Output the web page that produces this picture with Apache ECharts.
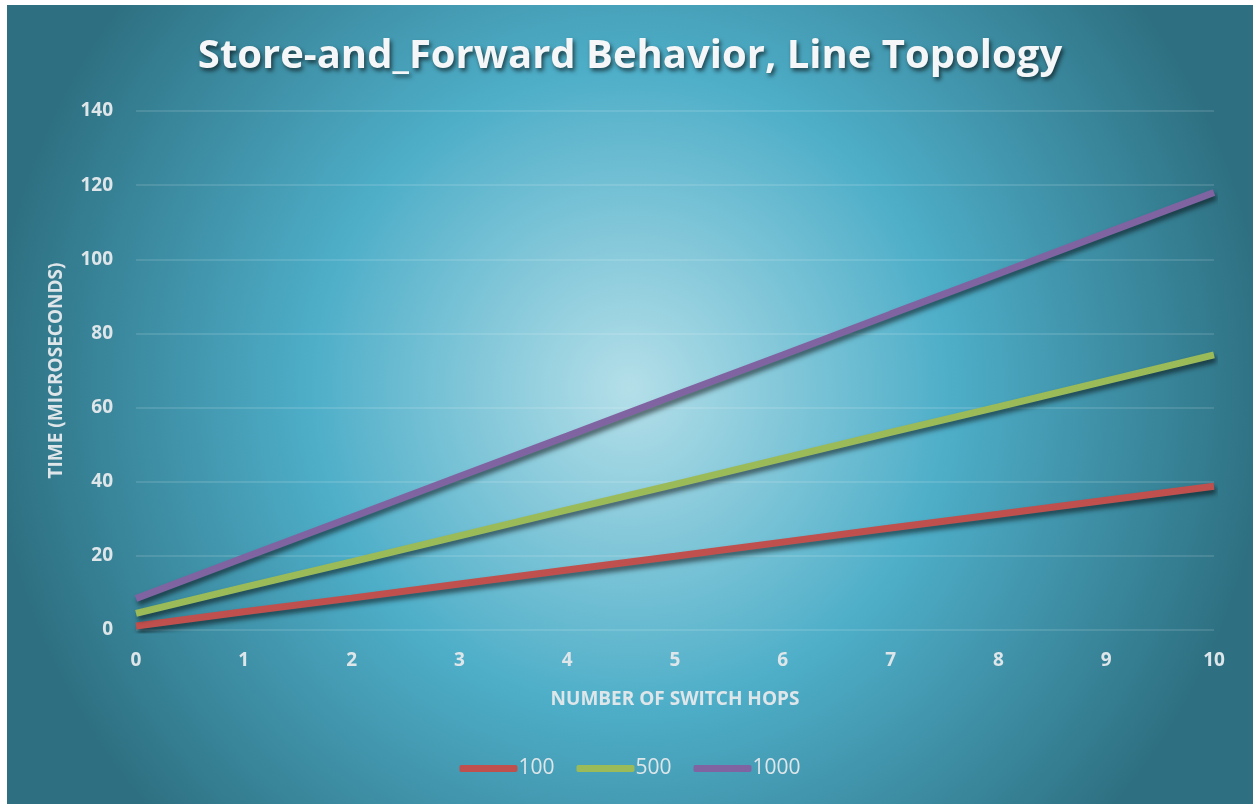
<!DOCTYPE html>
<html>
<head>
<meta charset="utf-8">
<script src="https://cdn.jsdelivr.net/npm/echarts@6/dist/echarts.min.js"></script>
<style>
  html, body { margin: 0; padding: 0; background: #fff; }
  #chart { position: absolute; left: 7px; top: 5px; width: 1246px; height: 799px; }
</style>
</head>
<body>
<div id="chart"></div>
<script>
const hops = [0, 1, 2, 3, 4, 5, 6, 7, 8, 9, 10];
const size100 = [1.1, 4.9, 8.6, 12.4, 16.2, 19.9, 23.7, 27.5, 31.2, 35.0, 38.8];
const size500 = [4.5, 11.5, 18.4, 25.4, 32.4, 39.3, 46.3, 53.3, 60.2, 67.2, 74.2];
const size1000 = [8.5, 19.5, 30.4, 41.4, 52.3, 63.3, 74.2, 85.2, 96.1, 107.1, 118.0];
const seriesNames = ["100", "500", "1000"];

const labelColor = "#dfe6ea";
const lineShadow = {
  shadowColor: "rgba(0,0,0,0.55)",
  shadowBlur: 5,
  shadowOffsetX: 2,
  shadowOffsetY: 4,
};

function makeSeries(name, values, color) {
  return {
    name: name,
    type: "line",
    data: hops.map((h, i) => [h, values[i]]),
    showSymbol: false,
    symbol: "none",
    color: color,
    lineStyle: Object.assign({ width: 7, color: color, cap: "butt" }, lineShadow),
  };
}

const chart = echarts.init(document.getElementById("chart"));
chart.setOption({
  animation: false,
  backgroundColor: new echarts.graphic.RadialGradient(0.5, 0.48, 0.8, [
    { offset: 0, color: "#b4dfe9" },
    { offset: 0.5, color: "#4eaec8" },
    { offset: 1, color: "#2e7082" },
  ]),
  title: {
    text: "Store-and_Forward Behavior, Line Topology",
    left: "center",
    top: 27,
    textStyle: {
      fontFamily: "Open Sans",
      fontWeight: "bold",
      fontSize: 40,
      color: "#f4f6f7",
      textShadowColor: "rgba(0,0,0,0.6)",
      textShadowBlur: 4,
      textShadowOffsetX: 2,
      textShadowOffsetY: 3,
    },
  },
  legend: {
    bottom: 20,
    left: "center",
    itemWidth: 58,
    itemHeight: 7,
    itemGap: 22,
    icon: "roundRect",
    data: seriesNames,
    textStyle: { color: labelColor, fontSize: 21, fontFamily: "Open Sans", padding: [0, 0, 0, -4] },
  },
  grid: { left: 129, right: 39, top: 106, bottom: 174 },
  xAxis: {
    type: "value",
    min: 0,
    max: 10,
    interval: 1,
    name: "NUMBER OF SWITCH HOPS",
    nameLocation: "middle",
    nameGap: 60,
    nameTextStyle: { color: labelColor, fontSize: 19, fontWeight: "bold", fontFamily: "Open Sans" },
    axisLine: { show: false },
    axisTick: { show: false },
    splitLine: { show: false },
    axisLabel: { color: labelColor, fontSize: 19, fontWeight: "bold", fontFamily: "Open Sans", margin: 21 },
  },
  yAxis: {
    type: "value",
    min: 0,
    max: 140,
    interval: 20,
    name: "TIME (MICROSECONDS)",
    nameLocation: "middle",
    nameGap: 70,
    nameTextStyle: { color: labelColor, fontSize: 19, fontWeight: "bold", fontFamily: "Open Sans" },
    axisLine: { show: false },
    axisTick: { show: false },
    splitLine: { lineStyle: { color: "rgba(255,255,255,0.16)", width: 1.5 } },
    axisLabel: { color: labelColor, fontSize: 19, fontWeight: "bold", fontFamily: "Open Sans", margin: 23 },
  },
  series: [
    makeSeries(seriesNames[0], size100, "#c0504d"),
    makeSeries(seriesNames[1], size500, "#9bbb59"),
    makeSeries(seriesNames[2], size1000, "#8064a2"),
  ],
});
</script>
</body>
</html>
